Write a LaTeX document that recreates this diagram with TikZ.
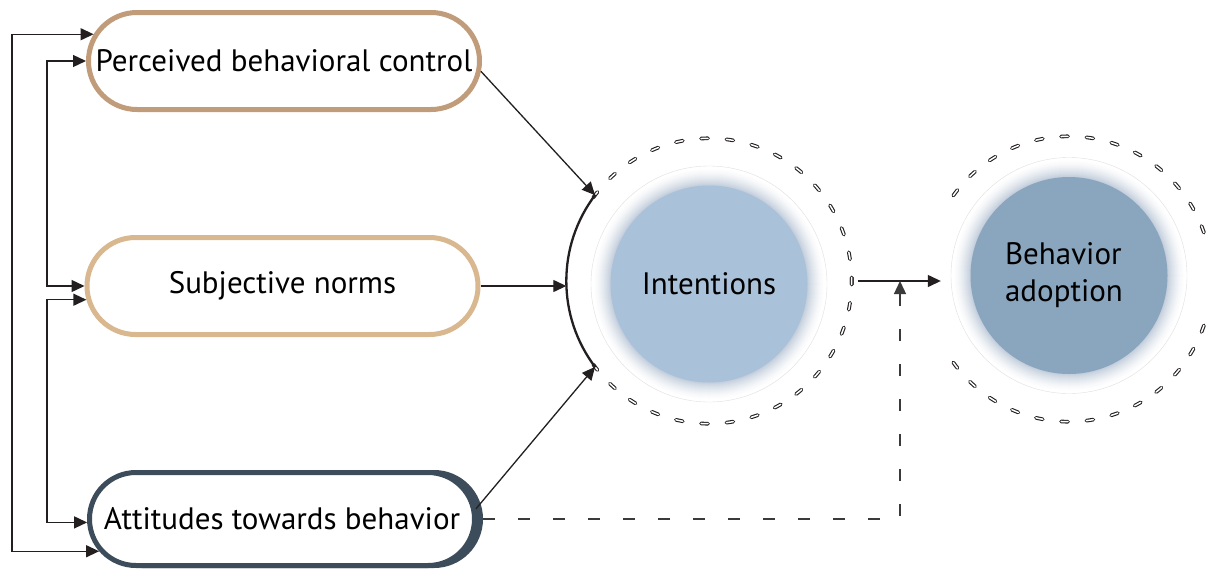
\documentclass[tikz,border=0pt]{standalone}
\usepackage{fontspec}
\setmainfont{PT Sans}
\usetikzlibrary{arrows.meta,shapes.misc}
\definecolor{inkc}{HTML}{231F20}
\definecolor{dashc}{HTML}{3A3A3A}
\definecolor{pbcc}{HTML}{C19C7B}
\definecolor{snc}{HTML}{D9B890}
\definecolor{atbc}{HTML}{3D4C5B}
\definecolor{intc}{HTML}{A9C2DA}
\definecolor{bac}{HTML}{8AA6BF}
\definecolor{glowA}{HTML}{BFCBDA}
\begin{document}
\begin{tikzpicture}[x=1pt,y=-1pt,
  box/.style={rounded rectangle, minimum width=391pt, minimum height=97pt,
    inner sep=0pt, line width=5pt, fill=white, text=black,
    font=\fontsize{31}{37}\selectfont},
  link/.style={draw=inkc, line width=1.3pt, -{Triangle[length=13pt,width=12pt]}},
  twoway/.style={draw=inkc, line width=1.3pt,
    {Triangle[length=13pt,width=12pt]}-{Triangle[length=13pt,width=12pt]}},
  dashedlink/.style={draw=dashc, line width=1.3pt, dash pattern=on 11.7pt off 23.3pt,
    -{Triangle[length=13pt,width=12pt]}},
  halo/.style={circle, inner sep=0pt, minimum size=236pt, fill=white,
    draw=black!12, line width=0.4pt},
  core/.style={circle, inner sep=0pt, minimum size=197pt, text=black,
    font=\fontsize{31}{37}\selectfont, align=center},
  ring/.style={circle, inner sep=0pt, outer sep=0pt, minimum size=285.4pt},
  capsule/.style={draw=inkc, line width=1.1pt, double=white, double distance=1.5pt,
    line cap=round}]

\fill[white] (0,0) rectangle (1206,568);
\useasboundingbox (0,0) rectangle (1206,568);

% left column: the three determinants
\node[box, draw=pbcc] (pbc) at (284,61) {Perceived behavioral control};
\node[box, draw=snc] (sn) at (282.5,286) {Subjective norms};
\node[box, draw=atbc, fill=atbc, minimum width=385pt, minimum height=93pt]
  (atbshadow) at (288,519) {};
\node[box, draw=atbc, minimum width=385pt, minimum height=93pt]
  (atb) at (282,519) {Attitudes towards behavior};

% soft halos: concentric discs fading out to white
\node[halo] (ihalo) at (709,284) {};
\node[halo] (bhalo) at (1069,275.5) {};
\foreach \h in {ihalo,bhalo}{
  \foreach \r in {116,115.5,...,97}{
    \pgfmathsetmacro{\p}{100*((116-\r)/18)^1.5}
    \fill[glowA!\p!white] (\h.center) circle[radius=\r];
  }
}

% intentions
\node[core, fill=intc] (int) at (709,284) {Intentions};
\node[ring] (intring) at (709,281) {};
\foreach \k in {0,...,14}{
  \foreach \s in {1,-1}{
    \draw[capsule] (intring.center) ++({\s*\k*10.2-1.4}:142.7)
      arc[start angle={\s*\k*10.2-1.4}, end angle={\s*\k*10.2+1.4}, radius=142.7];
  }
}
\draw[inkc, line width=2.3pt] (intring.center) ++(142.8:142.7)
  arc[start angle=142.8, end angle=217.2, radius=142.7];

% behavior adoption
\node[core, fill=bac, align=left] (ba) at (1069,275.5) {Behavior\\adoption\hspace*{10pt}};
\node[ring] (bring) at (1069,279) {};
\foreach \k in {2,...,14}{
  \foreach \s in {1,-1}{
    \draw[capsule] (bring.center) ++({\s*\k*10.2-1.4}:142.7)
      arc[start angle={\s*\k*10.2-1.4}, end angle={\s*\k*10.2+1.4}, radius=142.7];
  }
}

% feedback rails on the left
\coordinate (railout) at (12,0);
\coordinate (railin) at (47,0);
\draw[twoway] (pbc.172) -- (pbc.172 -| railout) -- (atb.190 -| railout) -- (atb.190);
\draw[twoway] (pbc.west) -- (pbc.west -| railin) -- (sn.west -| railin) -- (sn.west);
\draw[twoway] (sn.184) -- (sn.184 -| railin) -- (atb.181 -| railin) -- (atb.181);

% determinants to intentions
\draw[link] (pbc.-3) -- (intring.143);
\draw[link] (sn.east) -- (sn.east -| intring.west);
\draw[link] (atb.3) -- (intring.217);

% intentions to behavior, and the direct path from attitudes
\draw[link, shorten <=6pt, shorten >=10pt] (intring.east) -- (intring.east -| bhalo.west);
\coordinate (joint) at (900,0);
\draw[dashedlink, shorten <=6pt] (atb.east) -| (joint |- intring.east);

\end{tikzpicture}
\end{document}
